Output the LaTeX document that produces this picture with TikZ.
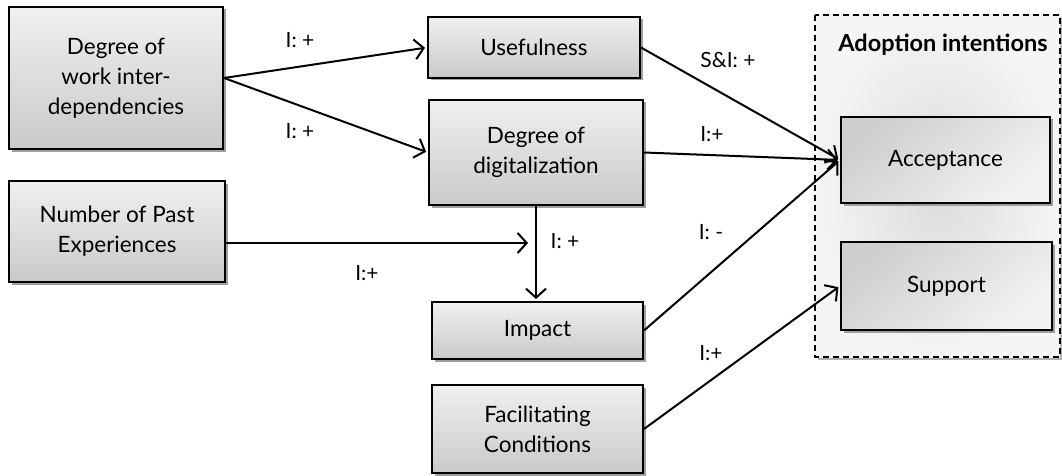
\documentclass[tikz,border=0pt]{standalone}
\usepackage{fontspec}
\setmainfont{Lato}
\usepackage{tikz}
\usetikzlibrary{arrows.meta,shadows,calc}

\tikzset{
  factor/.style={draw=black, line width=2pt, align=center, inner sep=2pt,
    top color=gray!12, bottom color=gray!42,
    drop shadow={shadow xshift=2.5pt, shadow yshift=-2.5pt, fill=gray!75, opacity=1},
    font=\fontsize{22.5}{30}\selectfont},
  intention/.style={factor, top color=gray!38, bottom color=gray!10, shading angle=40},
  lbl/.style={font=\fontsize{21}{24}\selectfont, inner sep=0pt},
  rel/.style={line width=2pt, -{Straight Barb[length=9pt,width=20pt,line width=2pt]}, shorten >=2pt}
}

\begin{document}
\begin{tikzpicture}[x=1pt,y=-1pt]
\useasboundingbox (0,0) rectangle (1062,476);

\path[draw=black, line width=2pt, dash pattern=on 6pt off 4pt,
  inner color=gray!28, outer color=gray!8,
  drop shadow={shadow xshift=2.5pt, shadow yshift=-2.5pt, fill=gray!60, opacity=1}]
  (815,15) rectangle (1060,357);
\node[font=\fontsize{23.5}{26}\selectfont\bfseries] (adopt) at (943,45) {Adoption intentions};

\node[factor, minimum width=214, minimum height=142] (dep) at (116,78) {Degree of\\work inter-\\dependencies};
\node[factor, minimum width=216, minimum height=101] (past) at (117,231.5) {Number of Past\\Experiences};
\node[factor, minimum width=212, minimum height=61] (use) at (534,47.5) {Usefulness};
\node[factor, minimum width=214, minimum height=105] (digi) at (536,152.5) {Degree of\\digitalization};
\node[factor, minimum width=211, minimum height=57] (imp) at (537.5,330.5) {Impact};
\node[factor, minimum width=211, minimum height=88] (fac) at (537.5,429) {Facilitating\\Conditions};
\node[intention, minimum width=209, minimum height=86] (acc) at (945.5,160) {Acceptance};
\node[intention, minimum width=211, minimum height=88] (sup) at (946.5,286) {Support};

\coordinate (cross) at (530,243);

\draw[rel] (dep.east) -- (use.west);
\node[lbl] (l1) at (300,40) {I: +};
\draw[rel] (dep.east) -- (digi.west);
\node[lbl] (l2) at (300,131) {I: +};
\draw[rel] (past.east |- cross) -- (cross);
\node[lbl] (l3) at (367,273) {I:+};
\draw[rel] (digi.south) -- (digi.south |- imp.north);
\node[lbl] (l4) at (565,241) {I: +};
\draw[rel] (use.east) -- (acc.west);
\node[lbl] (l5) at (728,60) {S\&I: +};
\draw[rel] (digi.east) -- (acc.west);
\node[lbl] (l6) at (712,134) {I:+};
\draw[rel] (imp.east) -- (acc.west);
\node[lbl] (l7) at (711,232) {I: -};
\draw[rel] (fac.east) -- (sup.west);
\node[lbl] (l8) at (711,353) {I:+};
\end{tikzpicture}
\end{document}
